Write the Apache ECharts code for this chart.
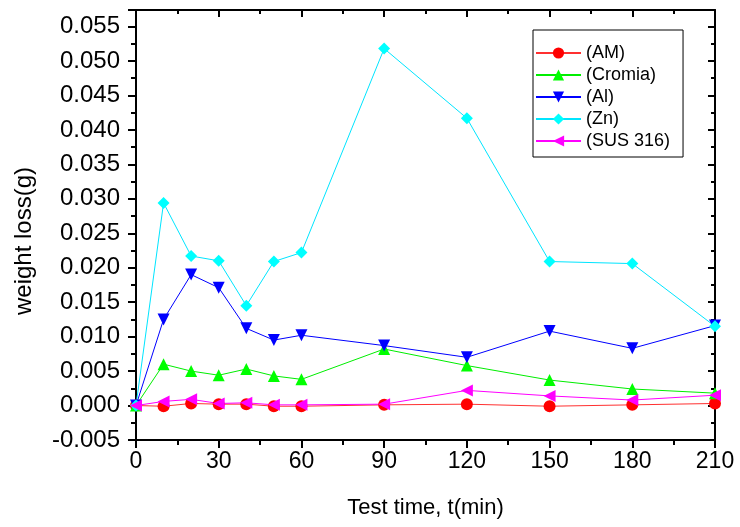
<!DOCTYPE html>
<html>
<head>
<meta charset="utf-8">
<script src="https://cdn.jsdelivr.net/npm/echarts@6/dist/echarts.min.js"></script>
<style>html,body{margin:0;padding:0;background:#fff;}#c{width:740px;height:527px;}</style>
</head>
<body>
<div id="c"></div>
<script>
var times = [0, 10, 20, 30, 40, 50, 60, 90, 120, 150, 180, 210];
var seriesNames = ['(AM)', '(Cromia)', '(Al)', '(Zn)', '(SUS 316)'];
var amValues = [0, -0.0001, 0.0003, 0.0002, 0.0002, -0.0001, -0.0001, 0.0001, 0.0002, -0.0001, 0.0001, 0.0003];
var cromiaValues = [0, 0.0060, 0.0050, 0.0044, 0.0053, 0.0043, 0.0038, 0.0082, 0.0058, 0.0037, 0.0024, 0.0018];
var alValues = [0, 0.0125, 0.0190, 0.0171, 0.0112, 0.0095, 0.0102, 0.0087, 0.0070, 0.0108, 0.0083, 0.0116];
var znValues = [0, 0.0294, 0.0217, 0.0210, 0.0145, 0.0209, 0.0222, 0.0518, 0.0417, 0.0209, 0.0206, 0.0115];
var susValues = [0, 0.0006, 0.0009, 0.0003, 0.0004, 0.0001, 0.0001, 0.0002, 0.0022, 0.0014, 0.0008, 0.0015];
var xTicks = [0, 30, 60, 90, 120, 150, 180, 210];
var yTicks = [-0.005, 0, 0.005, 0.010, 0.015, 0.020, 0.025, 0.030, 0.035, 0.040, 0.045, 0.050, 0.055];

function pairs(vals) { return times.map(function (t, i) { return [t, vals[i]]; }); }

var FONT = 'Liberation Sans, Arial, sans-serif';
var chart = echarts.init(document.getElementById('c'));

function mk(name, vals, color, lineColor, symbol, rot) {
  return {
    name: name, type: 'line', data: pairs(vals),
    symbol: symbol, symbolSize: 12, symbolRotate: rot,
    lineStyle: { color: lineColor, width: 1 },
    itemStyle: { color: color },
    animation: false
  };
}

var axisLineStyle = { show: true, onZero: false, lineStyle: { color: '#000', width: 2 } };

chart.setOption({
  backgroundColor: '#fff',
  grid: { left: 136, right: 25, top: 10, bottom: 87 },
  legend: {
    orient: 'vertical', left: 533, top: 30,
    padding: [14, 13, 7, 2], itemGap: 4, itemWidth: 45, itemHeight: 14,
    borderColor: '#000', borderWidth: 1,
    textStyle: { fontFamily: FONT, fontSize: 18, color: '#000' },
    data: seriesNames
  },
  xAxis: [{
    type: 'value', min: 0, max: 210, interval: 30,
    name: 'Test time, t(min)', nameLocation: 'middle', nameGap: 57,
    nameTextStyle: { fontFamily: FONT, fontSize: 22, color: '#000' },
    axisLine: axisLineStyle,
    axisTick: { show: true, inside: false, length: 8, lineStyle: { color: '#000', width: 2 } },
    minorTick: { show: true, splitNumber: 2, length: 5, lineStyle: { color: '#000', width: 2 } },
    axisLabel: { fontFamily: FONT, fontSize: 23, color: '#000', margin: 10,
      formatter: function (v) { return xTicks.indexOf(v) >= 0 ? String(v) : ''; } },
    splitLine: { show: false }
  }, {
    type: 'value', min: 0, max: 210, interval: 30, position: 'top',
    axisLine: axisLineStyle,
    axisTick: { show: true, inside: true, length: 7, lineStyle: { color: '#000', width: 2 } },
    minorTick: { show: true, splitNumber: 2, length: 4, lineStyle: { color: '#000', width: 2 } },
    axisLabel: { show: false }, splitLine: { show: false }
  }],
  yAxis: [{
    type: 'value', min: -0.005, max: 0.0574, interval: 0.005,
    name: 'weight loss(g)', nameLocation: 'middle', nameGap: 100,
    nameTextStyle: { fontFamily: FONT, fontSize: 24, color: '#000', padding: [0, 32, 0, 0] },
    axisLine: axisLineStyle,
    axisTick: { show: true, inside: false, length: 8, lineStyle: { color: '#000', width: 2 } },
    minorTick: { show: true, splitNumber: 2, length: 5, lineStyle: { color: '#000', width: 2 } },
    axisLabel: { fontFamily: FONT, fontSize: 24, color: '#000', margin: 16, showMaxLabel: false,
      formatter: function (v) {
        for (var i = 0; i < yTicks.length; i++) { if (Math.abs(yTicks[i] - v) < 1e-9) return yTicks[i].toFixed(3); }
        return '';
      } },
    splitLine: { show: false }
  }, {
    type: 'value', min: -0.005, max: 0.0574, interval: 0.005, position: 'right',
    axisLine: axisLineStyle,
    axisTick: { show: true, inside: true, length: 7, lineStyle: { color: '#000', width: 2 } },
    minorTick: { show: true, splitNumber: 2, length: 4, lineStyle: { color: '#000', width: 2 } },
    axisLabel: { show: false }, splitLine: { show: false }
  }],
  series: [
    mk(seriesNames[0], amValues, '#ff0000', '#ff3030', 'circle', 0),
    mk(seriesNames[1], cromiaValues, '#00ff00', '#00ee00', 'triangle', 0),
    mk(seriesNames[2], alValues, '#0000ff', '#0000ff', 'triangle', 180),
    mk(seriesNames[3], znValues, '#00ffff', '#00e5ff', 'diamond', 0),
    mk(seriesNames[4], susValues, '#ff00ff', '#ff00ff', 'triangle', 90)
  ]
});
</script>
</body>
</html>
